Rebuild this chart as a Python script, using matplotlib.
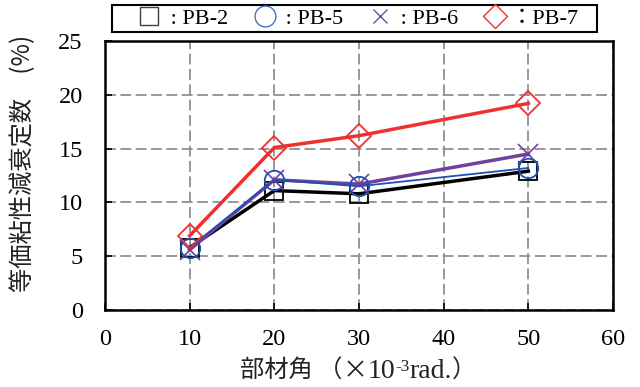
import matplotlib
matplotlib.use('Agg')
import matplotlib.pyplot as plt
from matplotlib.lines import Line2D
from matplotlib.patches import Rectangle

# member rotation angle (x10^-3 rad.) and equivalent viscous damping (%)
angle = [10, 20, 30, 50]
pb2 = [5.8, 11.1, 10.8, 12.9]
pb5 = [5.8, 12.1, 11.5, 13.2]
pb6 = [5.6, 12.1, 11.7, 14.5]
pb7 = [6.9, 15.1, 16.2, 19.2]

labels = [' : PB-2', ' : PB-5', ' : PB-6', '：PB-7']
xticks = [0, 10, 20, 30, 40, 50, 60]
yticks = [0, 5, 10, 15, 20, 25]

serif = ['Liberation Serif', 'Noto Sans CJK JP', 'DejaVu Serif']
cjk = ['Noto Sans CJK JP', 'DejaVu Sans']
plt.rcParams['font.family'] = serif

W, H = 640, 387
fig = plt.figure(figsize=(6.4, 3.87), dpi=100)
ax = fig.add_axes([105 / W, 1 - 310 / H, 508 / W, 269 / H])

ax.plot(angle, pb2, color='black', lw=2.5, marker='s', ms=13, mfc='none', mec='black', mew=1.3, zorder=3)
ax.plot(angle, pb5, color='#2050b0', lw=1.3, marker='o', ms=14, mfc='none', mec='#2050b0', mew=1.3, zorder=4)
ax.plot(angle, pb6, color='#7040a0', lw=2.5, marker='x', ms=14, mec='#7040a0', mew=1.2, zorder=3)
ax.plot(angle, pb7, color='#f03030', lw=2.5, marker='D', ms=12, mfc='none', mec='#f03030', mew=1.3, zorder=5)

ax.set_xlim(0, 60)
ax.set_ylim(0, 25)
ax.set_xticks(xticks)
ax.set_yticks(yticks)
ax.tick_params(direction='in', length=5, width=1.2, labelsize=17.5)
ax.tick_params(axis='x', pad=14)
ax.tick_params(axis='y', pad=16)
ax.grid(True, color='#909090', ls=(0, (6, 2.5)), lw=1.3)
for s in ax.spines.values():
    s.set_linewidth(1.8)

ax.set_ylabel('等価粘性減衰定数\u3000(%)', fontsize=17.5, family=cjk, color='#222222')
ax.yaxis.set_label_coords(-0.136, 0.545)

# x label built from pieces so the superscript and mixed fonts line up
pieces = [('部材角 （', cjk, 17.5, 0), ('×', cjk, 18, 0), ('10', serif, 20, 0),
          ('-3', serif, 12.5, 7), ('rad.', serif, 20, 0), ('）', cjk, 17.5, 0)]
base_y = 1 - 378 / H
texts = [fig.text(0, base_y, s, family=f, fontsize=sz, va='baseline', ha='left', color='#222222')
         for s, f, sz, dy in pieces]
fig.canvas.draw()
r = fig.canvas.get_renderer()
widths = [t.get_window_extent(r).width for t in texts]
x = 358 - sum(widths) / 2
for t, w, (s, f, sz, dy) in zip(texts, widths, pieces):
    t.set_position((x / W, base_y + dy / H))
    x += w

# legend with a hand-placed frame
handles = [
    Line2D([], [], ls='none', marker='s', ms=13, mfc='none', mec='#404040', mew=1.0),
    Line2D([], [], ls='none', marker='o', ms=15, mfc='none', mec='#4472c4', mew=1.0),
    Line2D([], [], ls='none', marker='x', ms=10, mec='#7050a0', mew=1.0),
    Line2D([], [], ls='none', marker='D', ms=12, mfc='none', mec='#f03030', mew=1.0),
]
fig.patches.append(Rectangle((112 / W, 1 - 32 / H), 485 / W, 27 / H, transform=fig.transFigure,
                             fill=False, ec='black', lw=1.5))
fig.legend(handles, labels, loc='center left', bbox_to_anchor=(137 / W, 1 - 18.5 / H),
           ncol=4, fontsize=16, frameon=False,
           handlelength=1.1, handletextpad=0.15, columnspacing=1.1,
           borderpad=0, borderaxespad=0)

fig.savefig('out.png', dpi=100)
